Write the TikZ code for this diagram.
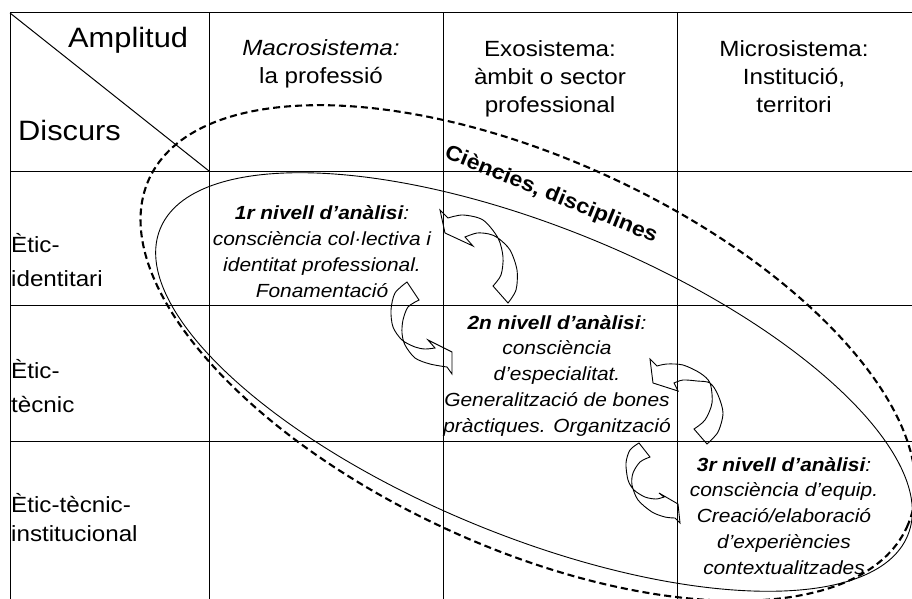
\documentclass[tikz,border=0pt]{standalone}
\usepackage{fontspec}
\setmainfont{Liberation Sans}[FakeStretch=1.1]
\usetikzlibrary{positioning}

\begin{document}
\begin{tikzpicture}[
    x=1pt, y=-1pt,
    every node/.style={inner sep=0pt},
    grid_line/.style={draw, line width=1pt},
    corner_text/.style={anchor=base west, font=\fontsize{28}{32}\selectfont},
    head_text/.style={align=center, anchor=base, font=\fontsize{22}{28}\selectfont},
    row_label/.style={align=left, anchor=base west, font=\fontsize{22}{34}\selectfont},
    level_text/.style={align=center, anchor=base, font=\fontsize{19}{25.7}\selectfont\itshape},
    solid_ell/.style={draw, line width=0.9pt},
    dash_ell/.style={draw, line width=2.1pt, dash pattern=on 7pt off 4pt},
    curv_arrow/.style={draw, line width=0.9pt}
]
\useasboundingbox (0,0) rectangle (912,599);

% Grid
\draw[grid_line] (10,13) -- (912,13);
\draw[grid_line] (10,171) -- (912,171);
\draw[grid_line] (10,305) -- (912,305);
\draw[grid_line] (10,441) -- (912,441);
\draw[grid_line] (10,13) -- (10,599);
\draw[grid_line] (209,13) -- (209,599);
\draw[grid_line] (443,13) -- (443,599);
\draw[grid_line] (677,13) -- (677,599);
\draw[grid_line] (10,13) -- (209,171);

% Corner cell
\node[corner_text] (amplitud) at (68,48) {Amplitud};
\node[corner_text] (discurs) at (18,140) {Discurs};

% Column heads (anchored on the last line)
\node[head_text] (macro) at (321,84) {\textit{Macrosistema:}\\la professió};
\node[head_text] (exo) at (550,113) {Exosistema:\\àmbit o sector\\professional};
\node[head_text] (micro) at (794,113) {Microsistema:\\Institució,\\territori};

% Row labels
\node[row_label] (row_ident) at (11,286) {Ètic-\\identitari};
\node[row_label] (row_tecn) at (11,412) {Ètic-\\tècnic};
\node[row_label, font=\fontsize{22}{29}\selectfont] (row_inst) at (11,541) {Ètic-tècnic-\\institucional};

% Ellipses
\draw[solid_ell, rotate around={-22.3:(534,382)}] (534,382) ellipse [x radius=404pt, y radius=154pt];
\draw[dash_ell, rotate around={-24.7:(528,353)}] (528,353) ellipse [x radius=417pt, y radius=194pt];
\node[font=\fontsize{21}{25}\selectfont\bfseries, rotate=-22] (ciencies) at (551,195) {Ciències, disciplines};

% Levels
\node[level_text] (level1) at (322,297) {\textbf{1r nivell d’anàlisi}:\\consciència col·lectiva i\\identitat professional.\\Fonamentació};
\node[level_text] (level2) at (557,432) {\textbf{2n nivell d’anàlisi}:\\consciència\\d’especialitat.\\Generalització de bones\\pràctiques. Organització};
\node[level_text] (level3) at (784,574) {\textbf{3r nivell d’anàlisi}:\\consciència d’equip.\\Creació/elaboració\\d’experiències\\contextualitzades};

% Curved arrows
\draw[curv_arrow] (493,286) -- plot[smooth] coordinates {(508,303) (516,290) (517,270) (510,250) (498,238) (489,234) (477,233) (465,237)}
    -- (473,246) -- (445,233) -- (440,210) -- (448,218)
    -- plot[smooth] coordinates {(448,218) (463,215) (483,220) (498,238) (503,257) (501,275) (493,286)} -- cycle;
\draw[curv_arrow] (419,300) -- plot[smooth] coordinates {(407,282) (395,293) (391,310) (393,327) (402,340) (415,347) (425,349) (435,348)}
    -- (428,340) -- (452,352) -- (452,374) -- (447,367)
    -- plot[smooth] coordinates {(447,367) (430,364) (415,358) (405,345) (402,333) (403,320) (408,307) (419,300)} -- cycle;
\draw[curv_arrow] (694,429) -- plot[smooth] coordinates {(707,444) (718,432) (723,413) (718,395) (710,383) (697,381) (683,380) (674,383)}
    -- (678,391) -- (653,383) -- (650,359) -- (657,366)
    -- plot[smooth] coordinates {(657,366) (667,364) (683,365) (700,373) (710,383) (712,403) (705,420) (694,429)} -- cycle;
\draw[curv_arrow] (650,457) -- plot[smooth] coordinates {(639,443) (630,450) (626,463) (628,480) (634,490) (645,497) (656,499) (664,497)}
    -- (659,493) -- (678,504) -- (680,523) -- (675,518)
    -- plot[smooth] coordinates {(675,518) (665,517) (652,512) (638,500) (632,485) (633,473) (640,462) (650,457)} -- cycle;

\end{tikzpicture}
\end{document}
